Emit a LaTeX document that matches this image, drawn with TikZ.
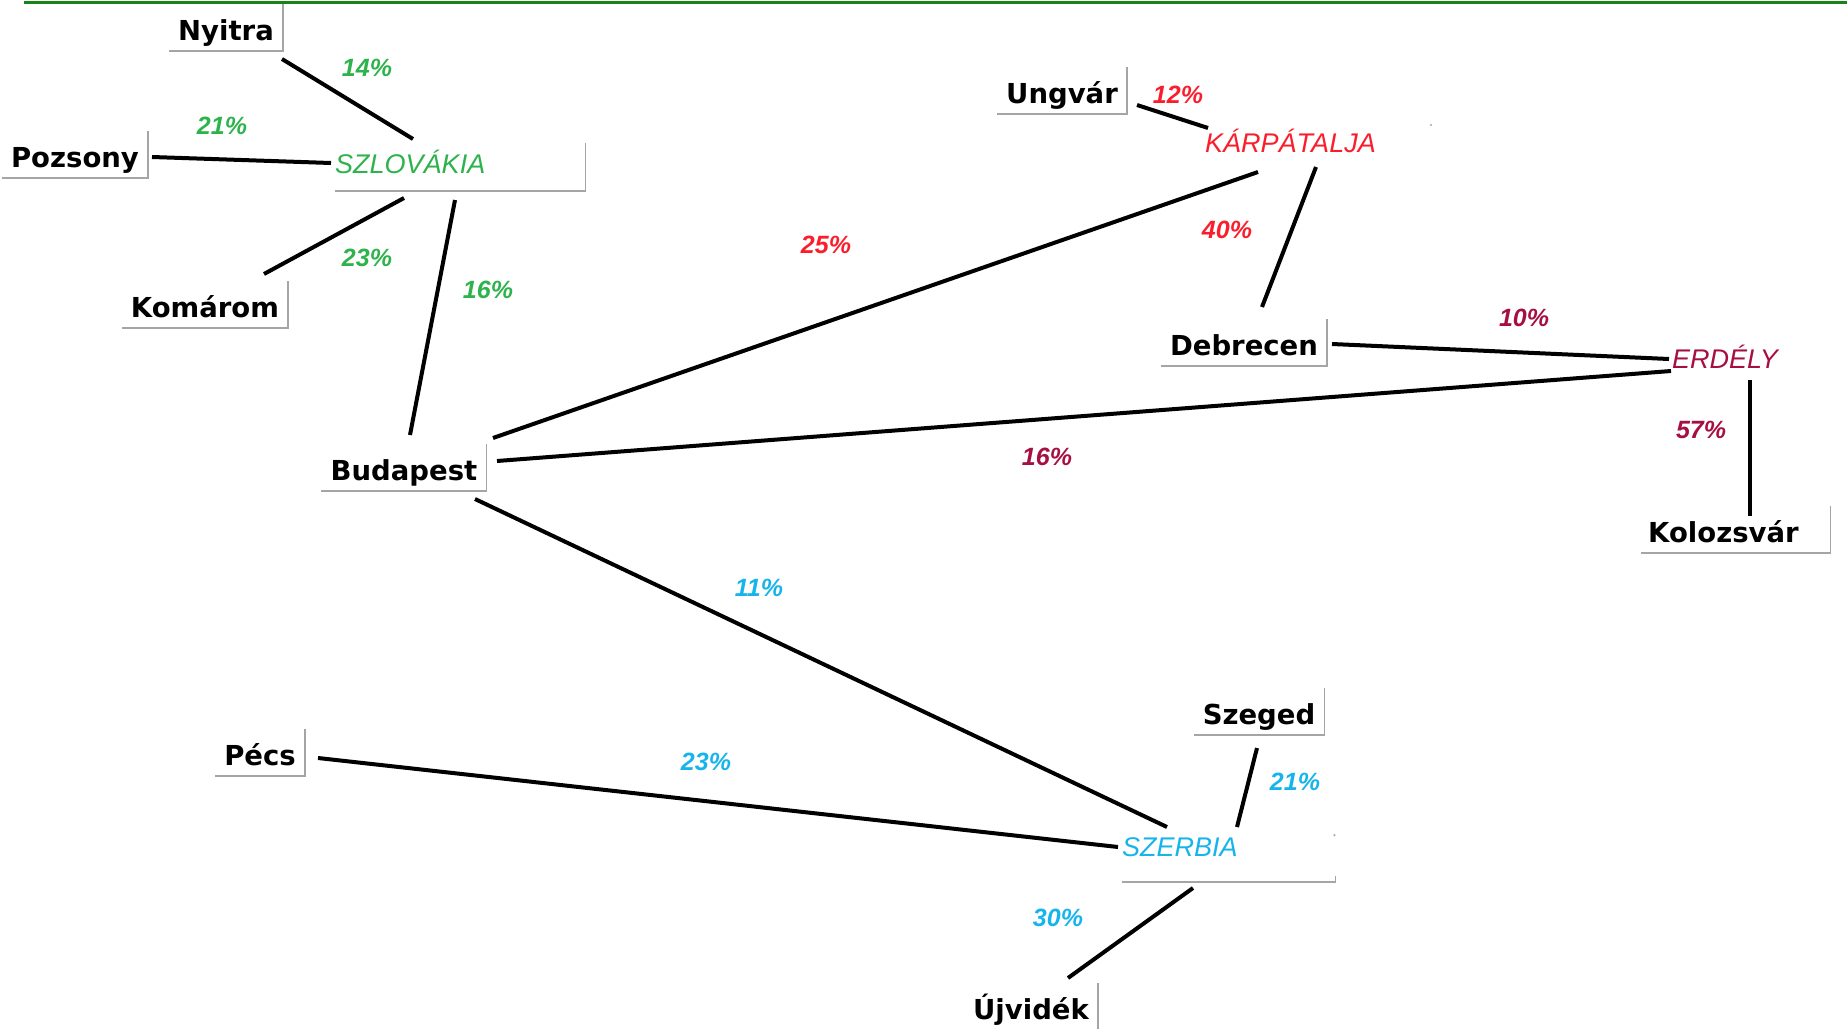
\documentclass[tikz,border=0pt]{standalone}
\usepackage{fontspec}
\usepackage{tikz}
\newfontfamily\cityfont{DejaVu Sans}
\newfontfamily\labelfont{Liberation Sans}
\definecolor{sk}{RGB}{46, 178, 76}
\definecolor{ua}{RGB}{250, 30, 45}
\definecolor{ro}{RGB}{165, 15, 65}
\definecolor{rs}{RGB}{22, 180, 235}
\definecolor{bx}{RGB}{165, 165, 165}
\definecolor{tl}{RGB}{25, 130, 25}
\usetikzlibrary{calc}

\begin{document}
\begin{tikzpicture}[
  city/.style={anchor=base, font=\cityfont\bfseries\fontsize{27.5}{30}\selectfont, text height=36pt, text depth=11pt, inner xsep=9pt, inner ysep=0pt},
  region/.style={anchor=base west, font=\labelfont\itshape\fontsize{27}{30}\selectfont, inner sep=0pt},
  pct/.style={font=\labelfont\bfseries\itshape\fontsize{25}{27}\selectfont, inner sep=0pt},
  link/.style={line width=4pt, color=black},
  boxline/.style={line width=1.6pt, color=bx}]
\useasboundingbox (0pt, 0pt) rectangle (1847pt, -1028pt);
\draw [line width=3pt, color=tl] (24pt, -2.5pt) -- (1847pt, -2.5pt);
\node (nyitra) [city] at (226pt, -40pt) {Nyitra};
\node (pozsony) [city] at (75pt, -167pt) {Pozsony};
\node (komarom) [city] at (205pt, -317pt) {Komárom};
\node (budapest) [city] at (404pt, -480pt) {Budapest};
\node (ungvar) [city] at (1062pt, -103pt) {Ungvár};
\node (debrecen) [city] at (1244pt, -355pt) {Debrecen};
\node (kolozsvar) [city, anchor=base west, text width=175pt, align=left, inner xsep=7pt] at (1641pt, -542pt) {Kolozsvár};
\node (pecs) [city] at (260pt, -765pt) {Pécs};
\node (szeged) [city] at (1259pt, -724pt) {Szeged};
\node (ujvidek) [city, text height=36pt, text depth=22pt] at (1031pt, -1019pt) {Újvidék};
\node (szlovakia) [region, text=sk, text width=250pt, align=left, text height=30pt, text depth=18pt] at (335pt, -173pt) {SZLOVÁKIA};
\node (karpatalja) [region, text=ua] at (1205pt, -152pt) {KÁRPÁTALJA};
\node (erdely) [region, text=ro] at (1672pt, -368pt) {ERDÉLY};
\node (szerbia) [region, text=rs, text width=213pt, align=left, text depth=26pt] at (1122pt, -856pt) {SZERBIA};
\foreach \n in {nyitra, pozsony, komarom, budapest, ungvar, debrecen, kolozsvar, pecs, szeged, ujvidek, szlovakia}
  \draw [boxline] (\n.north east) -- (\n.south east) -- (\n.south west);
\draw [boxline] ([yshift=6pt]szerbia.south east) -- (szerbia.south east) -- (szerbia.south west);
\fill [bx] ($(szerbia.south east)+(-1pt, 47pt)$) circle (1.2pt);
\fill [bx] ($(karpatalja.base west)+(226pt, 27pt)$) circle (1.2pt);
\draw [link] ($(nyitra.base)+(56pt, -19pt)$) -- ($(szlovakia.base west)+(78pt, 34pt)$);
\draw [link] ($(pozsony.base)+(77pt, 10pt)$) -- ($(szlovakia.base west)+(-4pt, 10pt)$);
\draw [link] ($(komarom.base)+(59pt, 43pt)$) -- ($(szlovakia.base west)+(69pt, -25pt)$);
\draw [link] ($(szlovakia.base west)+(120pt, -27pt)$) -- ($(budapest.base)+(6pt, 45pt)$);
\draw [link] ($(budapest.base)+(89pt, 42pt)$) -- ($(karpatalja.base west)+(53pt, -20pt)$);
\draw [link] ($(budapest.base)+(93pt, 19pt)$) -- ($(erdely.base west)+(-1pt, -3pt)$);
\draw [link] ($(budapest.base)+(71pt, -19pt)$) -- ($(szerbia.base west)+(45pt, 29pt)$);
\draw [link] ($(ungvar.base)+(75pt, -2pt)$) -- ($(karpatalja.base west)+(3pt, 24pt)$);
\draw [link] ($(karpatalja.base west)+(111pt, -15pt)$) -- ($(debrecen.base)+(18pt, 48pt)$);
\draw [link] ($(debrecen.base)+(88pt, 11pt)$) -- ($(erdely.base west)+(-3pt, 9pt)$);
\draw [link] ($(erdely.base west)+(78pt, -12pt)$) -- ($(kolozsvar.base west)+(109pt, 26pt)$);
\draw [link] ($(pecs.base)+(58pt, 7pt)$) -- ($(szerbia.base west)+(-4pt, 9pt)$);
\draw [link] ($(szeged.base)+(-2pt, -24pt)$) -- ($(szerbia.base west)+(115pt, 29pt)$);
\draw [link] ($(szerbia.base west)+(71pt, -32pt)$) -- ($(ujvidek.base)+(37pt, 41pt)$);
\node (p1) [pct, text=sk] at (367pt, -68pt) {14\%};
\node (p2) [pct, text=sk] at (222pt, -126pt) {21\%};
\node (p3) [pct, text=sk] at (367pt, -258pt) {23\%};
\node (p4) [pct, text=sk] at (488pt, -290pt) {16\%};
\node (p5) [pct, text=ua] at (1178pt, -95pt) {12\%};
\node (p6) [pct, text=ua] at (1227pt, -230pt) {40\%};
\node (p7) [pct, text=ua] at (826pt, -245pt) {25\%};
\node (p8) [pct, text=ro] at (1524pt, -318pt) {10\%};
\node (p9) [pct, text=ro] at (1701pt, -430pt) {57\%};
\node (p10) [pct, text=ro] at (1047pt, -457pt) {16\%};
\node (p11) [pct, text=rs] at (759pt, -588pt) {11\%};
\node (p12) [pct, text=rs] at (706pt, -762pt) {23\%};
\node (p13) [pct, text=rs] at (1295pt, -782pt) {21\%};
\node (p14) [pct, text=rs] at (1058pt, -918pt) {30\%};
\end{tikzpicture}
\end{document}
